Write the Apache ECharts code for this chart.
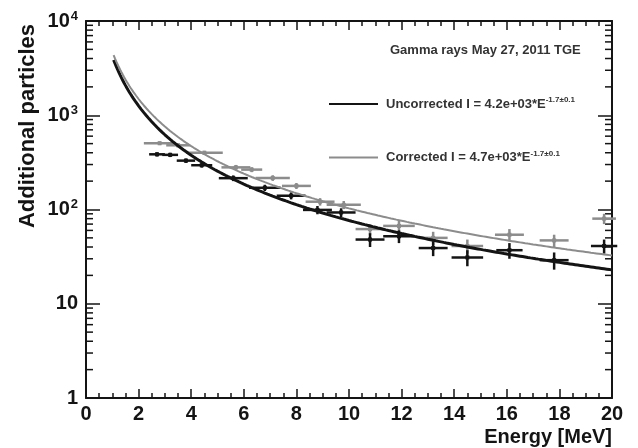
<!DOCTYPE html>
<html>
<head>
<meta charset="utf-8">
<script src="https://cdn.jsdelivr.net/npm/echarts@6/dist/echarts.min.js"></script>
<style>
  html, body { margin: 0; padding: 0; background: #fff; }
  #chart { width: 638px; height: 448px; }
</style>
</head>
<body>
<div id="chart"></div>
<script>
// Measured spectrum points: energy bin centre, count, half bin width, count error
const energyUncorr = [2.7, 3.2, 3.8, 4.4, 5.6, 6.8, 7.8, 8.8, 9.7, 10.8, 11.9, 13.2, 14.5, 16.1, 17.8, 19.7];
const countsUncorr = [385, 380, 330, 295, 215, 170, 140, 99, 93, 48, 52, 39, 31, 37, 29, 41];
const halfWidthUncorr = [0.3, 0.3, 0.35, 0.4, 0.55, 0.6, 0.55, 0.55, 0.55, 0.55, 0.6, 0.55, 0.6, 0.5, 0.55, 0.5];
const errUncorr = [20, 20, 18, 17, 15, 13, 12, 10, 10, 8, 8, 7, 6, 7, 6, 7];

const energyCorr = [2.8, 3.5, 4.5, 5.7, 6.3, 7.1, 8.0, 8.9, 9.8, 10.8, 11.9, 13.2, 14.5, 16.1, 17.8, 19.7];
const countsCorr = [505, 480, 400, 280, 265, 216, 178, 121, 112, 62, 67, 50, 41, 54, 47, 80];
const halfWidthCorr = [0.6, 0.45, 0.7, 0.55, 0.4, 0.65, 0.55, 0.55, 0.65, 0.55, 0.6, 0.55, 0.6, 0.55, 0.55, 0.45];
const errCorr = [23, 22, 20, 17, 16, 15, 13, 11, 11, 8, 9, 8, 7, 8, 7, 10];

// Power-law fits I = A * E^p
const fitUncorr = { name: 'Uncorrected', A: 4.2e3, p: -1.74, err: 0.1 };
const fitCorr = { name: 'Corrected', A: 4.7e3, p: -1.66, err: 0.1 };
const fitStart = 1.05, fitEnd = 20, fitStep = 0.05;

const xTicks = [0, 2, 4, 6, 8, 10, 12, 14, 16, 18, 20];
const yDecades = [1, 10, 100, 1000, 10000];
const chartTitle = 'Gamma rays May 27, 2011 TGE';
const xTitle = 'Energy [MeV]';
const yTitle = 'Additional particles';

const INK = '#141414';
const GREY = '#8c8c8c';

function fitCurve(fit) {
  const pts = [];
  for (let e = fitStart; e <= fitEnd + 1e-9; e += fitStep) {
    pts.push([e, fit.A * Math.pow(e, fit.p)]);
  }
  return pts;
}

function errorData(E, V, HW, ER) {
  return E.map((e, i) => [e, V[i], e - HW[i], e + HW[i], V[i] - ER[i], V[i] + ER[i]]);
}

function fmtPrefactor(a) {
  return a.toExponential(1).replace(/e\+(\d)$/, 'e+0$1');
}

// log minor ticks 2..9 in each decade
const minorY = [];
for (let d = 0; d < yDecades.length - 1; d++) {
  for (let k = 2; k <= 9; k++) minorY.push(k * yDecades[d]);
}

function errorBars(color) {
  return function (params, api) {
    const c = api.coord([api.value(0), api.value(1)]);
    const l = api.coord([api.value(2), api.value(1)]);
    const r = api.coord([api.value(3), api.value(1)]);
    const lo = api.coord([api.value(0), api.value(4)]);
    const hi = api.coord([api.value(0), api.value(5)]);
    const st = { stroke: color, lineWidth: 2.5 };
    return {
      type: 'group',
      children: [
        { type: 'line', shape: { x1: l[0], y1: c[1], x2: r[0], y2: c[1] }, style: st },
        { type: 'line', shape: { x1: c[0], y1: hi[1], x2: c[0], y2: lo[1] }, style: st },
        { type: 'rect', shape: { x: c[0] - 2, y: c[1] - 2, width: 4, height: 4 }, style: { fill: color } }
      ]
    };
  };
}

function minorTickRender(params, api) {
  const v = api.value(0);
  const L = api.coord([0, v]);
  const R = api.coord([20, v]);
  const st = { stroke: INK, lineWidth: 1.5 };
  return {
    type: 'group',
    children: [
      { type: 'line', shape: { x1: L[0], y1: L[1], x2: L[0] + 7, y2: L[1] }, style: st },
      { type: 'line', shape: { x1: R[0], y1: R[1], x2: R[0] - 7, y2: R[1] }, style: st }
    ]
  };
}

const chart = echarts.init(document.getElementById('chart'), null, { renderer: 'canvas' });

const axisLineStyle = { lineStyle: { color: INK, width: 2 } };
const xAxisCommon = {
  type: 'value', min: 0, max: 20, interval: 2,
  axisLine: Object.assign({ show: true, onZero: false }, axisLineStyle),
  axisTick: { show: true, inside: true, length: 9, lineStyle: { color: INK, width: 1.5 } },
  minorTick: { show: true, splitNumber: 4, length: 5, lineStyle: { color: INK, width: 1.5 } },
  splitLine: { show: false }
};
const yAxisCommon = {
  type: 'log', logBase: 10, min: 1, max: 10000,
  axisLine: Object.assign({ show: true, onZero: false }, axisLineStyle),
  axisTick: { show: true, inside: true, length: 14, lineStyle: { color: INK, width: 1.5 } },
  splitLine: { show: false }
};

const supLegend = (fit) => '{t|' + fit.name + ' I = ' + fmtPrefactor(fit.A) + '*E}{s|' +
  fit.p.toFixed(1) + '\u00b1' + fit.err.toFixed(1) + '}';

chart.setOption({
  backgroundColor: '#fff',
  animation: false,
  grid: { left: 86, right: 26, top: 21, bottom: 50 },
  title: {
    text: chartTitle, left: 385, top: 39,
    textStyle: { fontFamily: 'Liberation Sans', fontWeight: 'bold', fontSize: 13, color: '#333' }
  },
  legend: {
    data: [
      { name: fitUncorr.name, itemStyle: { opacity: 0 } },
      { name: fitCorr.name, itemStyle: { opacity: 0 } }
    ],
    orient: 'vertical', left: 323, top: 91,
    itemWidth: 49, itemHeight: 14, itemGap: 39,
    selectedMode: false,
    formatter: (name) => supLegend(name === fitUncorr.name ? fitUncorr : fitCorr),
    textStyle: {
      padding: [0, 0, 0, 3],
      rich: {
        t: { fontFamily: 'Liberation Sans', fontWeight: 'bold', fontSize: 13, color: '#333' },
        s: { fontFamily: 'Liberation Sans', fontWeight: 'bold', fontSize: 8, color: '#333', verticalAlign: 'top', padding: [0, 0, 8, 0] }
      }
    }
  },
  xAxis: [
    Object.assign({}, xAxisCommon, {
      position: 'bottom',
      axisLabel: {
        show: true, margin: 6, color: INK, fontFamily: 'Liberation Sans', fontWeight: 'bold', fontSize: 20,
        customValues: xTicks
      }
    }),
    Object.assign({}, xAxisCommon, { position: 'top', axisLabel: { show: false } })
  ],
  yAxis: [
    Object.assign({}, yAxisCommon, {
      position: 'left',
      axisLabel: {
        show: true, margin: 8, color: INK,
        formatter: (v) => {
          const e = Math.round(Math.log10(v));
          if (e === 0) return '{b|1}';
          if (e === 1) return '{b|10}';
          return '{b|10}{s|' + e + '}';
        },
        rich: {
          b: { fontFamily: 'Liberation Sans', fontWeight: 'bold', fontSize: 20, color: INK },
          s: { fontFamily: 'Liberation Sans', fontWeight: 'bold', fontSize: 13, color: INK, verticalAlign: 'top', padding: [0, 0, 10, 1] }
        }
      }
    }),
    Object.assign({}, yAxisCommon, { position: 'right', axisLabel: { show: false } })
  ],
  graphic: [
    {
      type: 'text', x: 28, y: 126, rotation: Math.PI / 2,
      style: {
        text: yTitle, fill: INK, font: 'bold 22px "Liberation Sans"',
        textAlign: 'center', textVerticalAlign: 'middle'
      }
    },
    {
      type: 'text', x: 612, y: 437,
      style: {
        text: xTitle, fill: INK, font: 'bold 20px "Liberation Sans"',
        textAlign: 'right', textVerticalAlign: 'middle'
      }
    }
  ],
  series: [
    {
      type: 'custom', name: 'ticks', silent: true, clip: false,
      xAxisIndex: 0, yAxisIndex: 0,
      data: minorY.map(v => [v]),
      encode: { y: 0 },
      renderItem: minorTickRender
    },
    {
      type: 'custom', name: 'Corrected data', silent: true,
      xAxisIndex: 0, yAxisIndex: 0,
      data: errorData(energyCorr, countsCorr, halfWidthCorr, errCorr),
      encode: { x: [0, 2, 3], y: [1, 4, 5] },
      renderItem: errorBars(GREY)
    },
    {
      type: 'custom', name: 'Uncorrected data', silent: true,
      xAxisIndex: 0, yAxisIndex: 0,
      data: errorData(energyUncorr, countsUncorr, halfWidthUncorr, errUncorr),
      encode: { x: [0, 2, 3], y: [1, 4, 5] },
      renderItem: errorBars(INK)
    },
    {
      type: 'line', name: fitUncorr.name, data: fitCurve(fitUncorr),
      showSymbol: false, symbol: 'none', silent: true,
      lineStyle: { color: INK, width: 3 }, itemStyle: { color: INK }
    },
    {
      type: 'line', name: fitCorr.name, data: fitCurve(fitCorr),
      showSymbol: false, symbol: 'none', silent: true,
      lineStyle: { color: GREY, width: 2 }, itemStyle: { color: GREY }
    }
  ]
});
</script>
</body>
</html>
